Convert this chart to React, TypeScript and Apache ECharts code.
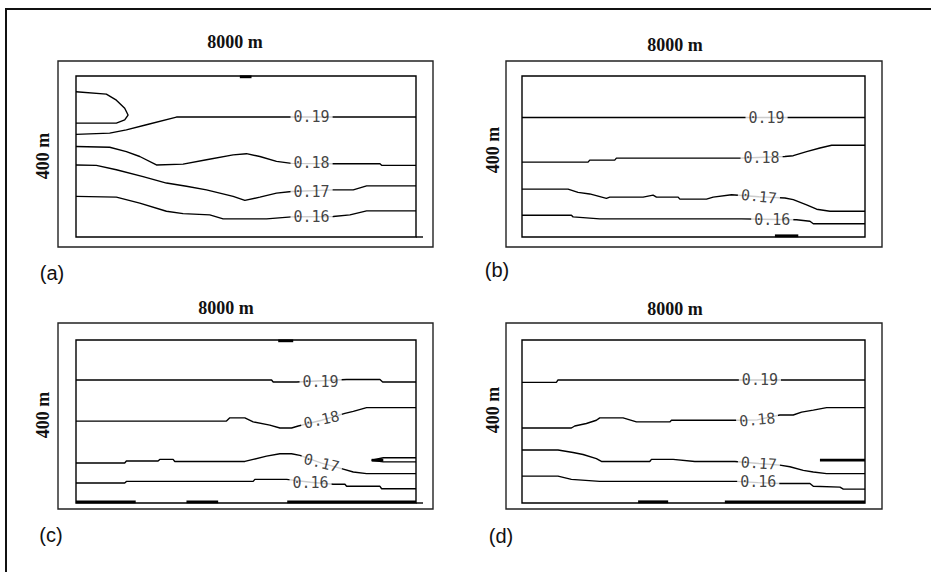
import React, { useEffect, useRef } from 'react';
import * as echarts from 'echarts';

const panelNames = ['(a)', '(b)', '(c)', '(d)'];
const titleText = '8000 m';
const depthText = '400 m';
const X_MAX = 8000;
const Y_MAX = 400;

// ---- panel (a) contours (x in m along 8000 m, y in m along 400 m)
const aLoop = [[0, 361], [714, 355], [950, 340], [1146, 320], [1225, 303], [1146, 291], [950, 283], [0, 283]];
const a19 = [[0, 255], [793, 258], [1185, 266], [1657, 279], [2363, 298], [8000, 298]];
const a18 = [[0, 225], [793, 223], [1185, 212], [1500, 200], [1892, 179], [2520, 181], [3070, 192], [3698, 204], [4012, 207], [4326, 200], [4718, 188], [5072, 183], [6053, 182], [7152, 182], [7191, 178], [8000, 178]];
const a17 = [[0, 179], [479, 178], [950, 167], [1578, 150], [2128, 134], [2599, 126], [3070, 117], [3698, 101], [3973, 91], [4326, 99], [4718, 109], [5072, 113], [6053, 117], [6524, 117], [6838, 127], [8000, 127]];
const a16 = [[0, 101], [950, 99], [1500, 84], [2128, 64], [2520, 58], [3148, 55], [3462, 45], [4483, 45], [5072, 50], [6053, 51], [6446, 55], [6838, 65], [8000, 65]];
const aEdge = [[[3855, 398], [4130, 398]]];
const aLabels = [
  { text: '0.19', x: 5543, y: 298, rotate: 0 },
  { text: '0.18', x: 5543, y: 183, rotate: 0 },
  { text: '0.17', x: 5543, y: 113, rotate: 0 },
  { text: '0.16', x: 5543, y: 50, rotate: 0 },
];

// ---- panel (b)
const b19 = [[0, 297], [8000, 297]];
const b18 = [[0, 186], [1541, 186], [1580, 191], [2163, 191], [2202, 196], [5082, 196], [6132, 200], [6327, 202], [6482, 207], [6638, 212], [6949, 221], [7222, 228], [8000, 228]];
const b17 = [[0, 119], [1074, 119], [1307, 111], [1580, 107], [1969, 96], [2047, 99], [2825, 99], [3058, 104], [3136, 99], [3642, 99], [3681, 94], [4303, 94], [4459, 99], [4887, 105], [5525, 100], [6132, 97], [6327, 93], [6638, 80], [6872, 69], [7183, 64], [8000, 64]];
const b16 = [[0, 54], [1152, 54], [1191, 50], [1813, 45], [5121, 45], [6405, 43], [6716, 39], [6794, 33], [8000, 33]];
const bEdge = [[[5899, 3], [6444, 3]]];
const bLabels = [
  { text: '0.19', x: 5704, y: 296, rotate: 0 },
  { text: '0.18', x: 5588, y: 196, rotate: 0 },
  { text: '0.17', x: 5525, y: 100, rotate: -6 },
  { text: '0.16', x: 5837, y: 43, rotate: 0 },
];

// ---- panel (c)
const c19 = [[0, 302], [4601, 302], [4640, 297], [5190, 297], [6367, 303], [7152, 303], [7215, 297], [8000, 297]];
const c18 = [[0, 201], [3541, 201], [3619, 209], [3973, 209], [4169, 199], [4561, 191], [4797, 184], [5072, 184], [5229, 189], [5778, 203], [6328, 220], [6524, 225], [6838, 234], [8000, 234]];
const c17 = [[0, 98], [1146, 98], [1186, 103], [1931, 103], [1971, 107], [2285, 107], [2324, 102], [3973, 102], [4169, 107], [4483, 115], [4797, 121], [5072, 121], [5268, 117], [5778, 98], [6289, 83], [6524, 76], [6838, 72], [8000, 72]];
const cLoop = [[8000, 111], [7231, 111], [6956, 105], [7231, 101], [8000, 101]];
const c16 = [[0, 49], [1146, 49], [1186, 53], [4169, 53], [4208, 58], [4954, 58], [5519, 51], [6053, 46], [6328, 46], [6367, 41], [7152, 41], [7191, 35], [8000, 35]];
const cEdge = [[[4758, 398], [5111, 398]], [[0, 3], [1405, 3]], [[2599, 3], [3345, 3]], [[4970, 3], [8000, 3]], [[6956, 105], [7231, 105]]];
const cLabels = [
  { text: '0.19', x: 5755, y: 298, rotate: 0 },
  { text: '0.18', x: 5778, y: 204, rotate: 13 },
  { text: '0.17', x: 5778, y: 98, rotate: -14 },
  { text: '0.16', x: 5519, y: 50, rotate: 0 },
];

// ---- panel (d)
const d19 = [[0, 296], [802, 296], [840, 302], [8000, 302]];
const d18 = [[0, 184], [1152, 184], [1230, 189], [1502, 195], [1735, 203], [1813, 209], [2358, 209], [2669, 199], [3447, 199], [3486, 203], [4965, 203], [5486, 204], [6015, 216], [6327, 216], [6521, 223], [6794, 228], [7105, 234], [8000, 234]];
const d17 = [[0, 130], [840, 130], [1191, 124], [1424, 119], [1735, 109], [1852, 102], [2980, 102], [3019, 107], [3525, 107], [4031, 102], [4965, 102], [5525, 97], [6015, 93], [6249, 89], [6560, 80], [6794, 76], [7105, 72], [8000, 72]];
const d16 = [[0, 66], [840, 66], [1152, 58], [1813, 53], [5004, 53], [5510, 50], [6015, 48], [6716, 48], [6794, 41], [7416, 39], [7494, 34], [8000, 34]];
const dEdge = [[[6949, 105], [8000, 105]], [[2708, 3], [3409, 3]], [[4731, 3], [8000, 3]]];
const dLabels = [
  { text: '0.19', x: 5549, y: 301, rotate: 0 },
  { text: '0.18', x: 5486, y: 204, rotate: 5 },
  { text: '0.17', x: 5525, y: 97, rotate: -4 },
  { text: '0.16', x: 5510, y: 51, rotate: 0 },
];

const panelLines = [
  [aLoop, a19, a18, a17, a16],
  [b19, b18, b17, b16],
  [c19, c18, c17, cLoop, c16],
  [d19, d18, d17, d16],
];
const panelEdges = [aEdge, bEdge, cEdge, dEdge];
const panelLabels = [aLabels, bLabels, cLabels, dLabels];

// layout (pixels)
const grids = [
  { left: 76, top: 76, width: 340, height: 161 },
  { left: 522, top: 76, width: 343, height: 161 },
  { left: 76, top: 340, width: 340, height: 163 },
  { left: 522, top: 340, width: 343, height: 163 },
];
const outerRects = [
  { x: 58, y: 61, width: 375, height: 186 },
  { x: 506, y: 61, width: 376, height: 186 },
  { x: 58, y: 323, width: 375, height: 186 },
  { x: 506, y: 323, width: 376, height: 186 },
];
const titlePos = [[235, 42], [675, 45], [226, 308], [675, 309]];
const depthPos = [[43, 156], [493, 150], [43, 415], [493, 410]];
const namePos = [[52, 273], [497, 270], [51, 535], [501, 536]];

const INK = '#000';

export default function App() {
  const ref = useRef<HTMLDivElement>(null);
  useEffect(() => {
    document.body.style.margin = '0';
    if (!ref.current) return;
    const chart = echarts.init(ref.current, undefined, { renderer: 'svg' });
    const series: any[] = [];
    for (let p = 0; p < 4; p++) {
      panelLines[p].forEach((d) => {
        series.push({
          type: 'line', xAxisIndex: p, yAxisIndex: p, data: d, symbol: 'none',
          silent: true, z: 2, lineStyle: { color: INK, width: 1.4 }, clip: false,
        });
      });
      panelEdges[p].forEach((d) => {
        series.push({
          type: 'line', xAxisIndex: p, yAxisIndex: p, data: d, symbol: 'none',
          silent: true, z: 3, lineStyle: { color: INK, width: 2.8 }, clip: false,
        });
      });
      series.push({
        type: 'scatter', xAxisIndex: p, yAxisIndex: p, symbol: 'circle', symbolSize: 1,
        itemStyle: { color: 'rgba(0,0,0,0)' }, silent: true, z: 5,
        data: panelLabels[p].map((l) => ({
          value: [l.x, l.y], name: l.text,
          label: { rotate: l.rotate },
        })),
        label: {
          show: true, position: 'inside', formatter: '{b}',
          fontFamily: 'DejaVu Sans Mono', fontSize: 15, color: '#111',
          backgroundColor: '#fff', padding: [1, 3],
        },
      });
    }
    const graphic: any[] = [
      { type: 'rect', shape: { x: 6, y: 9, width: 940, height: 580 }, style: { fill: 'none', stroke: '#111', lineWidth: 2 } },
    ];
    for (let p = 0; p < 4; p++) {
      graphic.push({ type: 'rect', shape: outerRects[p], style: { fill: 'none', stroke: '#222', lineWidth: 1.4 } });
      graphic.push({
        type: 'text', x: titlePos[p][0], y: titlePos[p][1],
        style: { text: titleText, fontFamily: 'Liberation Serif', fontWeight: 'bold', fontSize: 18, fill: '#111', align: 'center', verticalAlign: 'middle', textAlign: 'center', textVerticalAlign: 'middle' },
      });
      graphic.push({
        type: 'text', x: depthPos[p][0], y: depthPos[p][1], rotation: Math.PI / 2,
        style: { text: depthText, fontFamily: 'Liberation Serif', fontWeight: 'bold', fontSize: 18, fill: '#111', align: 'center', verticalAlign: 'middle', textAlign: 'center', textVerticalAlign: 'middle' },
      });
      graphic.push({
        type: 'text', x: namePos[p][0], y: namePos[p][1],
        style: { text: panelNames[p], fontFamily: 'Liberation Sans', fontSize: 20, fill: '#111', align: 'center', verticalAlign: 'middle', textAlign: 'center', textVerticalAlign: 'middle' },
      });
    }
    // bottom border extension in (a) and (c)
    [0, 2].forEach((p) => {
      const g = grids[p];
      graphic.push({ type: 'line', shape: { x1: g.left + g.width, y1: g.top + g.height, x2: g.left + g.width + 7, y2: g.top + g.height }, style: { stroke: INK, lineWidth: 1.4 } });
    });

    chart.setOption({
      animation: false,
      backgroundColor: '#fff',
      grid: grids.map((g) => ({ ...g, show: true, borderColor: INK, borderWidth: 1.4, backgroundColor: 'transparent' })),
      xAxis: grids.map((_, i) => ({ type: 'value', gridIndex: i, min: 0, max: X_MAX, show: false })),
      yAxis: grids.map((_, i) => ({ type: 'value', gridIndex: i, min: 0, max: Y_MAX, show: false })),
      series,
      graphic,
    });
    return () => chart.dispose();
  }, []);
  return <div ref={ref} style={{ width: 931, height: 572 }} />;
}
